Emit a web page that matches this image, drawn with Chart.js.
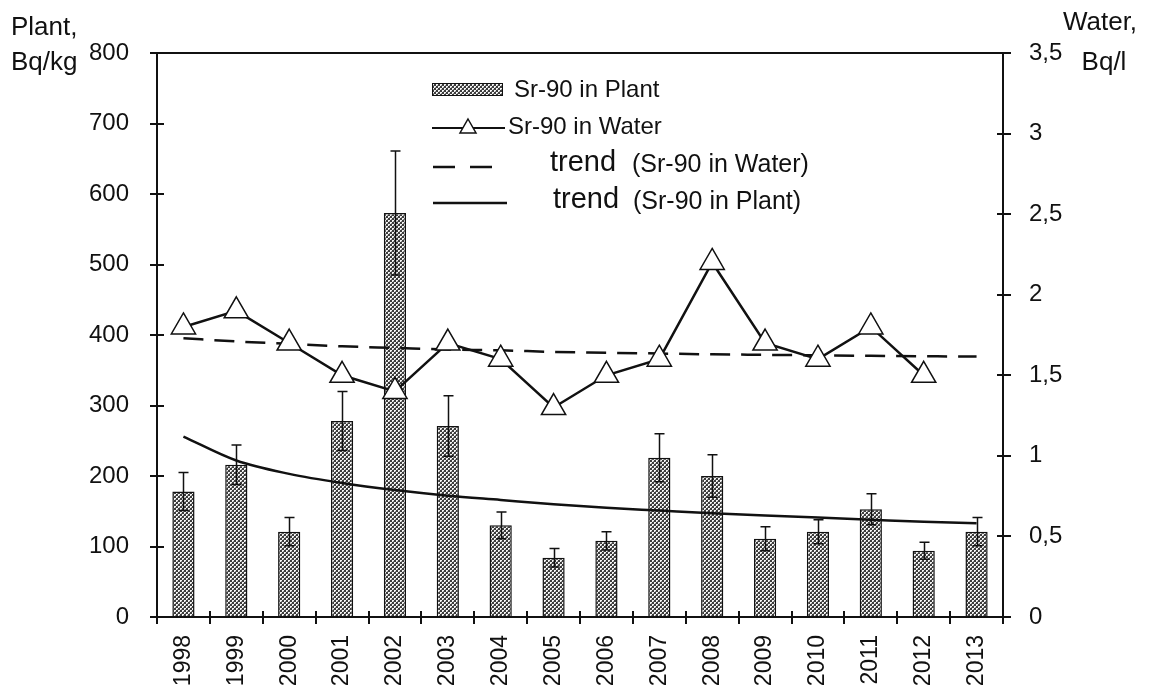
<!DOCTYPE html>
<html>
<head>
<meta charset="utf-8">
<script src="https://cdn.jsdelivr.net/npm/chart.js@4.4.1/dist/chart.umd.min.js"></script>
<style>
html,body{margin:0;padding:0;background:#fff;}
#wrap{width:1153px;height:693px;position:relative;}
</style>
</head>
<body>
<div id="wrap"><canvas id="c" width="1153" height="693"></canvas></div>
<script>
// ---- data ----
const years = ['1998','1999','2000','2001','2002','2003','2004','2005','2006','2007','2008','2009','2010','2011','2012','2013'];
const plantValues = [178, 216, 121, 278, 573, 271, 130, 84, 108, 226, 200, 111, 121, 153, 94, 121];
const plantErrors = [27, 28, 20, 42, 88, 43, 19, 13, 13, 34, 30, 17, 17, 22, 12, 20];
const waterValues = [1.8, 1.9, 1.7, 1.5, 1.4, 1.7, 1.6, 1.3, 1.5, 1.6, 2.2, 1.7, 1.6, 1.8, 1.5, null];
const waterTrend = [1.73, 1.71, 1.695, 1.68, 1.67, 1.66, 1.655, 1.645, 1.64, 1.635, 1.63, 1.627, 1.624, 1.621, 1.618, 1.616];
const plantTrend = [256, 222, 203, 190, 180, 172, 166, 160, 155, 151, 147, 144, 141, 138, 135, 133];
const leftTicks = [0, 100, 200, 300, 400, 500, 600, 700, 800];
const rightTicks = [0, 0.5, 1, 1.5, 2, 2.5, 3, 3.5];
const leftTitle = ['Plant,', 'Bq/kg'];
const rightTitle = ['Water,', 'Bq/l'];
const legendLabels = ['Sr-90 in Plant', 'Sr-90 in Water', 'trend', '(Sr-90 in Water)', 'trend', '(Sr-90 in Plant)'];

const FONT = '"Liberation Sans", Arial, sans-serif';
const INK = '#111';

const canvas = document.getElementById('c');
const ctx0 = canvas.getContext('2d');

// dotted (cross-hatch) fill pattern for bars
const tile = document.createElement('canvas');
tile.width = 4; tile.height = 4;
const tc = tile.getContext('2d');
tc.fillStyle = '#3c3c3c';
tc.fillRect(0, 0, 4, 4);
tc.fillStyle = '#f4f4f4';
tc.fillRect(0, 0, 2, 2);
tc.fillRect(2, 2, 2, 2);
tc.fillStyle = '#8c8c8c';
tc.fillRect(1, 1, 1, 1);
tc.fillRect(3, 3, 1, 1);
const barPattern = ctx0.createPattern(tile, 'repeat');

const fmtComma = v => String(v).replace('.', ',');

const errorBarPlugin = {
  id: 'errorBars',
  afterDatasetDraw(chart, args) {
    if (args.index !== 0) return;
    const ctx = chart.ctx;
    const ys = chart.scales.y;
    const meta = chart.getDatasetMeta(0);
    ctx.save();
    ctx.strokeStyle = INK;
    ctx.lineWidth = 1.5;
    meta.data.forEach((el, i) => {
      const v = plantValues[i], e = plantErrors[i];
      const x = Math.round(el.x) + 0.5;
      const yt = ys.getPixelForValue(v + e);
      const yb = ys.getPixelForValue(v - e);
      ctx.beginPath();
      ctx.moveTo(x, yt); ctx.lineTo(x, yb);
      ctx.moveTo(x - 5, yt); ctx.lineTo(x + 5, yt);
      ctx.moveTo(x - 5, yb); ctx.lineTo(x + 5, yb);
      ctx.stroke();
    });
    ctx.restore();
  }
};

const framePlugin = {
  id: 'frame',
  afterDraw(chart) {
    const ctx = chart.ctx;
    const a = chart.chartArea;
    const ys = chart.scales.y, yr = chart.scales.y1, xs = chart.scales.x;
    ctx.save();
    ctx.strokeStyle = INK;
    ctx.lineWidth = 2;
    ctx.beginPath();
    ctx.moveTo(a.left, a.top); ctx.lineTo(a.left, a.bottom);
    ctx.moveTo(a.right, a.top); ctx.lineTo(a.right, a.bottom);
    ctx.moveTo(a.left - 7, a.bottom); ctx.lineTo(a.right + 8, a.bottom);
    ctx.moveTo(a.left, a.top); ctx.lineTo(a.right + 8, a.top);
    leftTicks.forEach(t => {
      const y = Math.round(ys.getPixelForValue(t));
      ctx.moveTo(a.left - 7, y); ctx.lineTo(a.left + 7, y);
    });
    rightTicks.forEach(t => {
      const y = Math.round(yr.getPixelForValue(t));
      ctx.moveTo(a.right - 6, y); ctx.lineTo(a.right + 8, y);
    });
    const n = years.length;
    for (let i = 0; i <= n; i++) {
      let x;
      if (i === 0) x = a.left;
      else if (i === n) x = a.right;
      else x = (xs.getPixelForValue(i - 1) + xs.getPixelForValue(i)) / 2;
      x = Math.round(x);
      ctx.moveTo(x, a.bottom - 6); ctx.lineTo(x, a.bottom + 7);
    }
    ctx.stroke();

    // axis titles
    ctx.fillStyle = INK;
    ctx.font = '26px ' + FONT;
    ctx.textAlign = 'left';
    ctx.textBaseline = 'alphabetic';
    ctx.fillText(leftTitle[0], 11, 35);
    ctx.fillText(leftTitle[1], 11, 70);
    ctx.textAlign = 'center';
    ctx.fillText(rightTitle[0], 1100, 30);
    ctx.fillText(rightTitle[1], 1104, 70);

    // legend
    ctx.textAlign = 'left';
    ctx.textBaseline = 'middle';
    ctx.fillStyle = barPattern;
    ctx.fillRect(432, 83, 71, 13);
    ctx.lineWidth = 1;
    ctx.strokeStyle = INK;
    ctx.strokeRect(432.5, 83.5, 70, 12);
    ctx.fillStyle = INK;
    ctx.font = '24px ' + FONT;
    ctx.fillText(legendLabels[0], 514, 90);
    ctx.lineWidth = 2;
    ctx.beginPath();
    ctx.moveTo(432, 128); ctx.lineTo(505, 128);
    ctx.stroke();
    ctx.beginPath();
    ctx.moveTo(468, 119); ctx.lineTo(476, 133); ctx.lineTo(460, 133); ctx.closePath();
    ctx.fillStyle = '#fff';
    ctx.fill();
    ctx.lineWidth = 1.5;
    ctx.stroke();
    ctx.fillStyle = INK;
    ctx.fillText(legendLabels[1], 508, 127);
    ctx.lineWidth = 2.5;
    ctx.beginPath();
    ctx.moveTo(433, 167); ctx.lineTo(455, 167);
    ctx.moveTo(470, 167); ctx.lineTo(492, 167);
    ctx.stroke();
    ctx.font = '29px ' + FONT;
    ctx.fillText(legendLabels[2], 550, 163);
    ctx.font = '25px ' + FONT;
    ctx.fillText(legendLabels[3], 632, 165);
    ctx.beginPath();
    ctx.moveTo(433, 203); ctx.lineTo(507, 203);
    ctx.stroke();
    ctx.font = '29px ' + FONT;
    ctx.fillText(legendLabels[4], 553, 200);
    ctx.font = '25px ' + FONT;
    ctx.fillText(legendLabels[5], 633, 202);
    ctx.restore();
  }
};

new Chart(canvas, {
  data: {
    labels: years,
    datasets: [
      {
        type: 'bar',
        label: legendLabels[0],
        data: plantValues,
        yAxisID: 'y',
        backgroundColor: barPattern,
        borderColor: INK,
        borderWidth: 1.5,
        barPercentage: 0.42,
        categoryPercentage: 1,
        order: 4
      },
      {
        type: 'line',
        label: 'trend (Sr-90 in Plant)',
        data: plantTrend,
        yAxisID: 'y',
        borderColor: INK,
        borderWidth: 2.5,
        pointRadius: 0,
        cubicInterpolationMode: 'monotone',
        fill: false,
        order: 3
      },
      {
        type: 'line',
        label: 'trend (Sr-90 in Water)',
        data: waterTrend,
        yAxisID: 'y1',
        borderColor: INK,
        borderWidth: 2.5,
        borderDash: [20, 11],
        pointRadius: 0,
        cubicInterpolationMode: 'monotone',
        fill: false,
        order: 2
      },
      {
        type: 'line',
        label: legendLabels[1],
        data: waterValues,
        yAxisID: 'y1',
        borderColor: INK,
        borderWidth: 2.5,
        pointStyle: 'triangle',
        pointRadius: 14,
        pointBackgroundColor: '#fff',
        pointBorderColor: INK,
        pointBorderWidth: 1.5,
        spanGaps: false,
        fill: false,
        order: 1
      }
    ]
  },
  options: {
    responsive: false,
    animation: false,
    layout: { padding: { top: 53, left: 0, right: 0, bottom: 0 } },
    plugins: { legend: { display: false }, tooltip: { enabled: false } },
    scales: {
      x: {
        type: 'category',
        offset: true,
        grid: { display: false },
        border: { display: false },
        ticks: {
          color: INK,
          font: { family: FONT, size: 23 },
          minRotation: 90,
          maxRotation: 90,
          padding: 10,
          autoSkip: false
        },
        afterFit(s) { s.height = 76; }
      },
      y: {
        position: 'left',
        min: 0, max: 800,
        grid: { display: false },
        border: { display: false },
        afterBuildTicks(s) { s.ticks = leftTicks.map(v => ({ value: v })); },
        ticks: {
          color: INK,
          font: { family: FONT, size: 24 },
          padding: 20,
          callback: v => String(v)
        },
        afterFit(s) { s.width = 157; }
      },
      y1: {
        position: 'right',
        min: 0, max: 3.5,
        grid: { display: false },
        border: { display: false },
        afterBuildTicks(s) { s.ticks = rightTicks.map(v => ({ value: v })); },
        ticks: {
          color: INK,
          font: { family: FONT, size: 24 },
          padding: 18,
          callback: v => fmtComma(v)
        },
        afterFit(s) { s.width = 150; }
      }
    }
  },
  plugins: [errorBarPlugin, framePlugin]
});
</script>
</body>
</html>
